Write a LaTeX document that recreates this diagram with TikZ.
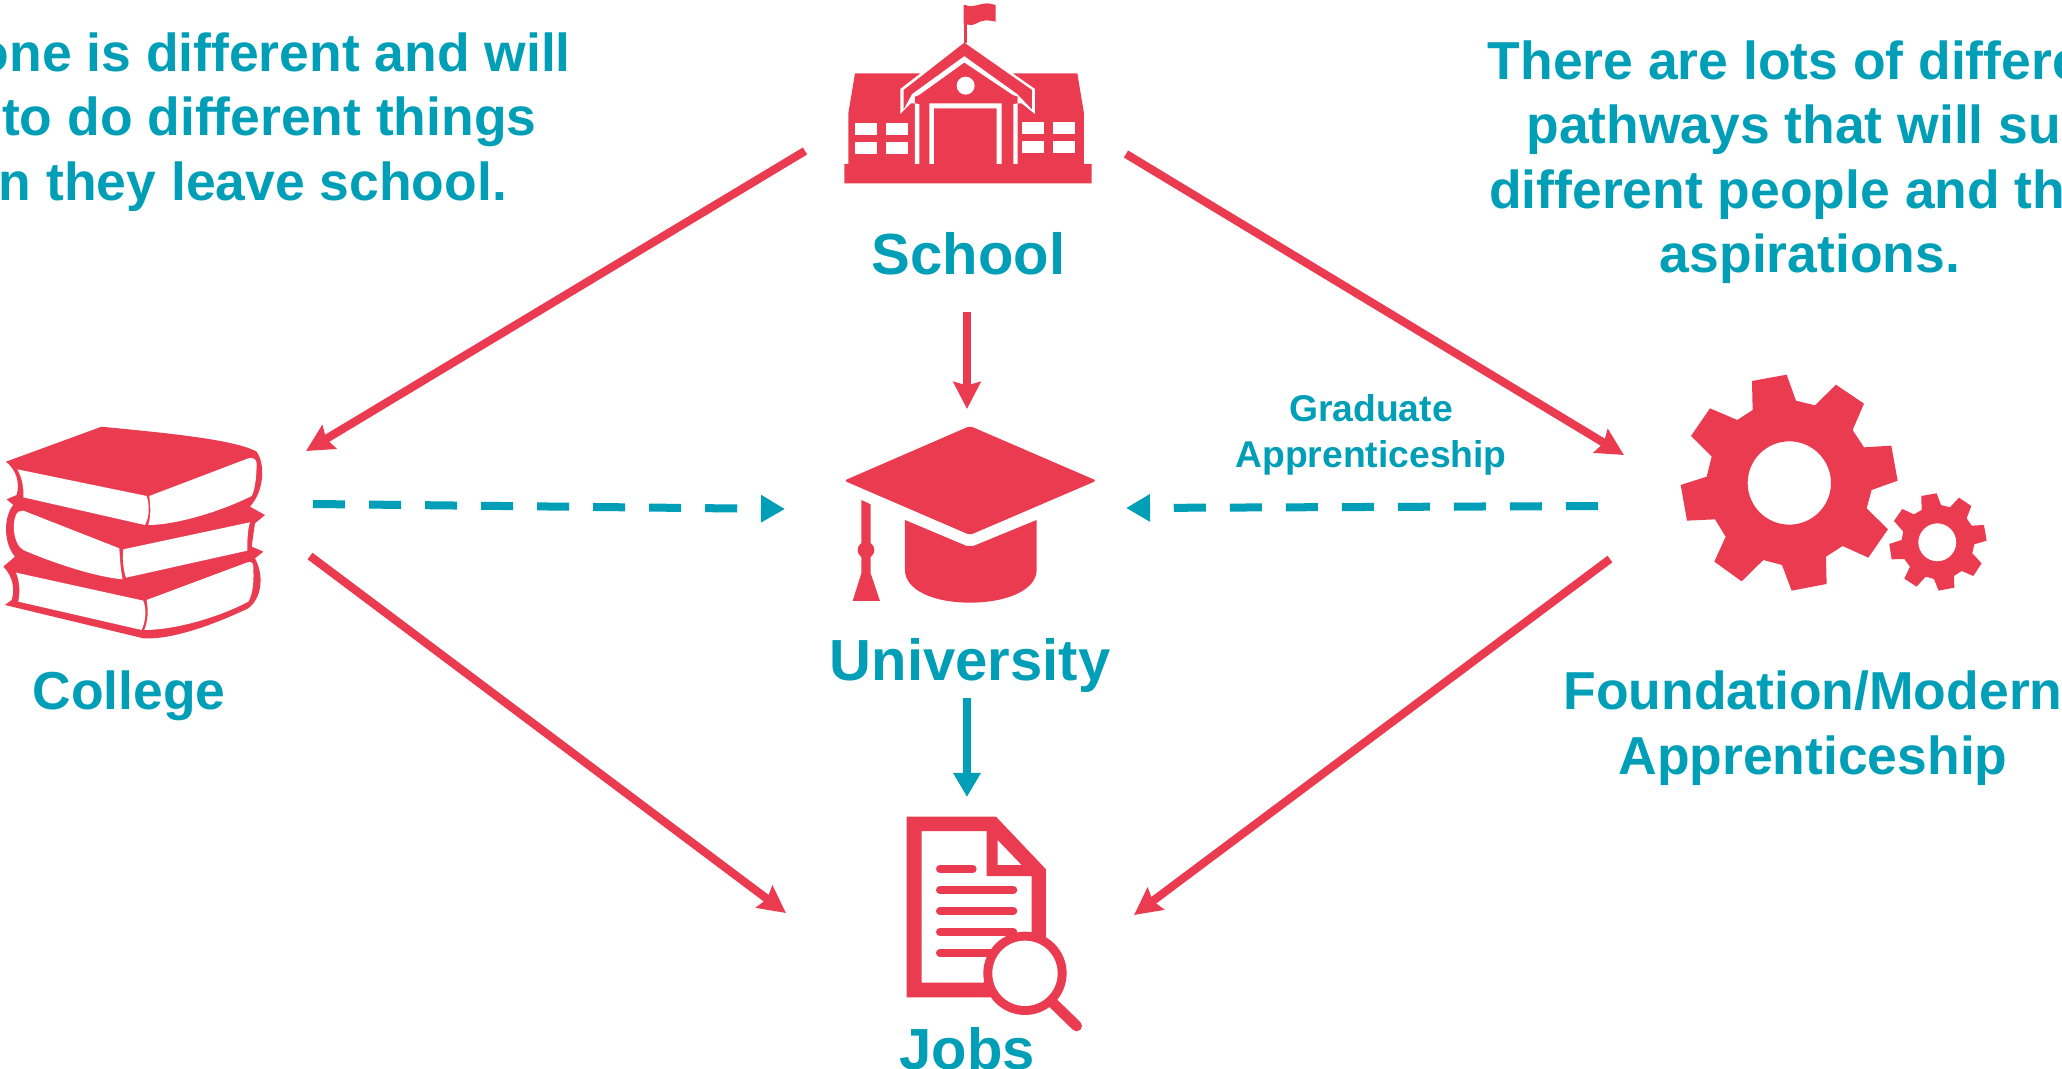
\documentclass[tikz,border=0pt]{standalone}
\usepackage{fontspec}
\setmainfont{Liberation Sans}
\usetikzlibrary{arrows.meta}
\definecolor{pathred}{HTML}{EB3B50}
\definecolor{pathteal}{HTML}{009FB7}
\tikzset{
  blurb/.style={text=pathteal, align=center, font=\fontsize{15.2}{18.35}\selectfont\bfseries},
  place/.style={text=pathteal, align=center, font=\fontsize{16.5}{19}\selectfont\bfseries},
  small place/.style={text=pathteal, align=center, font=\fontsize{10.6}{12.9}\selectfont\bfseries},
  redarrow/.style={draw=pathred, line width=.082cm, -{Stealth[length=.27cm, width=.27cm, inset=.035cm]}},
  tealarrow/.style={draw=pathteal, line width=.08cm, -{Triangle[length=.24cm, width=.26cm]}},
  tealdash/.style={tealarrow, dash pattern=on .32cm off .24cm},
  redfill/.style={fill=pathred},
  whitefill/.style={fill=white}
}
\begin{document}
\begin{tikzpicture}[x=.01cm, y=-.01cm]
  \useasboundingbox (0,0) rectangle (2062,1069);
  \clip (0,0) rectangle (2062,1069);

  \begin{scope}[shift={(820,0)}, scale=.3333]
    \fill[redfill] (73,550) -- (815,550) -- (815,492) -- (792,492) -- (792,340) -- (772,220) -- (105,220) -- (85,340) -- (85,492) -- (73,492) -- cycle;
    \fill[whitefill] (241,267) -- (433,118) -- (645,267) -- (645,342) -- (605,310) -- (593,310) -- (593,492) -- (285,492) -- (285,310) -- (272,310) -- (241,342) -- cycle;
    \fill[redfill] (433,128) -- (636,270) -- (636,328) -- (592,282) -- (433,168) -- (276,282) -- (251,328) -- (251,270) -- cycle;
    \fill[redfill] (433,188) -- (578,285) -- (593,290) -- (593,310) -- (580,312) -- (580,492) -- (298,492) -- (298,312) -- (285,310) -- (285,290) -- (298,285) -- cycle;
    \fill[whitefill] (328,492) -- (328,310) -- (545,310) -- (545,492) -- (530,492) -- (530,325) -- (342,325) -- (342,492) -- cycle;
    \fill[whitefill] (437,257) circle (27);
    \foreach \wx/\wy in {105/370, 198/370, 105/427, 198/427, 605/366, 698/366, 605/423, 698/423}
      \fill[whitefill] (\wx,\wy) rectangle ++(67,36);
    \fill[redfill] (431,15) rectangle (440,130);
    \fill[redfill] (431,15) .. controls (460,25) and (480,10) .. (500,10) .. controls (515,10) and (520,15) .. (527,15) -- (527,65) .. controls (505,60) and (490,58) .. (470,70) .. controls (455,78) and (445,75) .. (431,70) -- cycle;
  \end{scope}

  \begin{scope}[shift={(0,410)}, scale=.3333]
    \fill[redfill] (305,50) .. controls (450,65) and (700,85) .. (770,125) .. controls (795,160) and (795,240) .. (750,290) -- (795,315) -- (765,340) -- (755,410) -- (790,425) -- (765,445) .. controls (790,490) and (790,560) .. (745,595) .. controls (650,640) and (520,690) .. (430,685) -- (15,585) -- (35,570) .. controls (45,540) and (40,500) .. (10,470) -- (45,440) .. controls (10,400) and (10,320) .. (40,285) -- (20,268) -- (50,255) .. controls (60,220) and (50,180) .. (18,155) -- cycle;
    \fill[whitefill] (52,178) -- (440,258) .. controls (450,290) and (448,320) .. (435,345) -- (70,262) .. controls (72,230) and (65,200) .. (52,178) -- cycle;
    \fill[whitefill] (448,258) -- (745,145) .. controls (760,140) and (770,150) .. (770,160) .. controls (770,200) and (765,240) .. (755,258) .. controls (650,310) and (520,345) .. (445,345) .. controls (455,310) and (450,280) .. (448,258) -- cycle;
    \fill[whitefill] (70,302) -- (358,415) .. controls (360,450) and (362,480) .. (368,508) .. controls (280,500) and (150,455) .. (70,420) .. controls (35,400) and (35,320) .. (55,305) -- cycle;
    \fill[whitefill] (370,418) -- (750,337) .. controls (742,360) and (742,400) .. (742,422) -- (378,503) .. controls (370,480) and (367,450) .. (370,418) -- cycle;
    \fill[whitefill] (48,488) -- (430,572) .. controls (440,600) and (438,630) .. (425,660) -- (55,575) .. controls (60,550) and (60,515) .. (48,488) -- cycle;
    \fill[whitefill] (440,570) -- (740,458) .. controls (755,452) and (760,460) .. (760,470) .. controls (762,510) and (760,550) .. (745,575) .. controls (650,625) and (520,660) .. (433,660) .. controls (445,630) and (445,600) .. (440,570) -- cycle;
  \end{scope}

  \begin{scope}[shift={(820,410)}, scale=.3333]
    \fill[redfill, rounded corners=.03cm] (450,48) -- (830,212) -- (450,375) -- (72,212) -- cycle;
    \fill[redfill] (255,330) -- (440,408) -- (460,408) -- (650,330) -- (650,480) .. controls (650,540) and (560,578) .. (450,578) .. controls (340,578) and (255,540) .. (255,480) -- cycle;
    \fill[redfill] (124,270) -- (152,283) -- (152,490) -- (180,573) -- (98,573) -- (124,490) -- cycle;
    \fill[redfill] (138,420) circle (25);
  \end{scope}

  \begin{scope}[shift={(880,800)}, scale=.3333]
    \fill[redfill, even odd rule] (80,50) -- (348,50) -- (498,208) -- (498,440) -- (330,592) -- (80,592) -- cycle
      (125,93) -- (320,93) -- (320,228) -- (455,228) -- (455,440) -- (310,548) -- (125,548) -- cycle
      (353,120) -- (425,195) -- (353,195) -- cycle;
    \foreach \ly/\lx in {207/278, 270/400, 333/400, 396/400, 459/340}
      \draw[pathred, line width=.08cm, line cap=round] (180,\ly) -- (\lx,\ly);
    \fill[redfill] (435,520) circle (125);
    \fill[whitefill] (435,520) circle (98);
    \draw[pathred, line width=.107cm, line cap=round] (520,610) -- (590,678);
  \end{scope}

  \begin{scope}[shift={(1660,360)}, scale=.3333]
    \fill[redfill, even odd rule] (276,63) -- (380,44) -- (408,122) -- (465,136) -- (528,74) -- (612,131) -- (578,210) -- (612,262) -- (694,257) -- (713,362) -- (635,390) -- (620,445) -- (684,508) -- (625,593) -- (548,558) -- (498,590) -- (500,672) -- (395,692) -- (366,615) -- (310,600) -- (245,664) -- (163,605) -- (197,530) -- (165,478) -- (81,482) -- (62,375) -- (140,350) -- (155,290) -- (93,228) -- (150,145) -- (232,180) -- (278,150) -- cycle
      (388,369) circle (125);
    \fill[redfill, even odd rule] (784,408) -- (830,400) -- (843,435) -- (870,442) -- (897,413) -- (934,438) -- (920,475) -- (935,497) -- (972,495) -- (980,542) -- (943,553) -- (937,580) -- (965,610) -- (940,648) -- (905,633) -- (882,648) -- (883,683) -- (836,692) -- (822,657) -- (797,650) -- (770,680) -- (733,656) -- (750,620) -- (733,597) -- (695,598) -- (688,552) -- (725,540) -- (730,515) -- (702,483) -- (727,447) -- (762,463) -- (785,450) -- cycle
      (832,547) circle (57);
  \end{scope}

  \coordinate (schoolleft) at (805,151);
  \coordinate (schoolright) at (1126,154);
  \coordinate (schoolfoot) at (967,312);
  \coordinate (collegetop) at (306,451);
  \coordinate (collegemid) at (313,504);
  \coordinate (collegefoot) at (310,556);
  \coordinate (captop) at (967,409);
  \coordinate (capleft) at (785,509);
  \coordinate (capright) at (1126,508);
  \coordinate (unifoot) at (967,698);
  \coordinate (jobstop) at (967,797);
  \coordinate (jobsleft) at (786,913);
  \coordinate (jobsright) at (1134,915);
  \coordinate (moderntop) at (1624,455);
  \coordinate (modernmid) at (1598,506);
  \coordinate (modernfoot) at (1610,559);

  \node[place] (schooltext) at (968.5,254) {School};
  \node[place] (universitytext) at (970,665) {University};
  \node[place] (jobstext) at (967,1049) {Jobs};
  \node[blurb] (collegetext) at (129,696) {College};
  \node[blurb] (moderntext) at (1813,728) {Foundation/Modern\\Apprenticeship};
  \node[small place] (gradtext) at (1371,435) {Graduate\\Apprenticeship};
  \node[blurb] (lefttext) at (201,122) {\phantom{Every}one is different and will\\\phantom{want }to do different things\\\phantom{whe}n they leave school.};
  \node[blurb] (righttext) at (1810,162) {There are lots of differe\phantom{nt}\\pathways that will su\phantom{it}\\different people and th\phantom{eir}\\aspirations.};

  \draw[redarrow] (schoolleft) -- (collegetop);
  \draw[redarrow] (schoolright) -- (moderntop);
  \draw[redarrow] (schoolfoot) -- (captop);
  \draw[redarrow] (collegefoot) -- (jobsleft);
  \draw[redarrow] (modernfoot) -- (jobsright);
  \draw[tealarrow] (unifoot) -- (jobstop);
  \draw[tealdash] (collegemid) -- (capleft);
  \draw[tealdash] (modernmid) -- (capright);
\end{tikzpicture}
\end{document}
